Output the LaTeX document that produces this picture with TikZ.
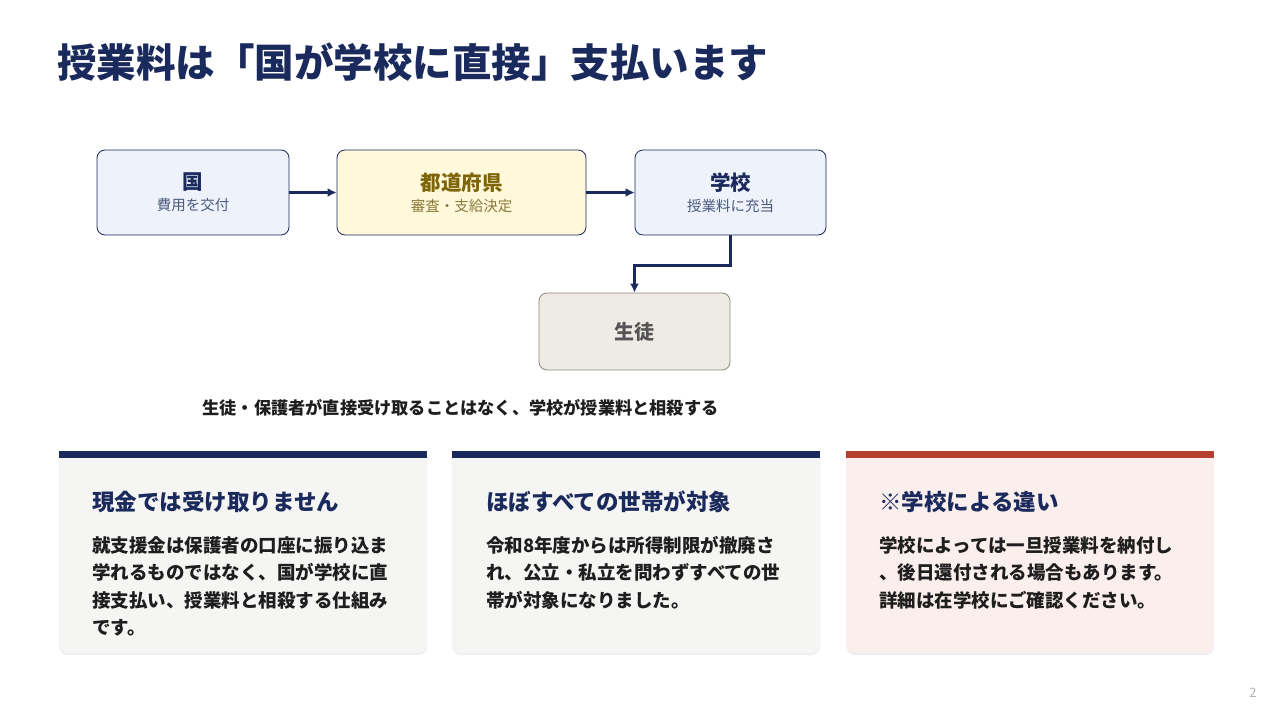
\documentclass[tikz,border=0pt]{standalone}
\usepackage{fontspec}
\setmainfont{Noto Sans CJK JP}
\usetikzlibrary{arrows.meta,shadows}

\definecolor{navy}{HTML}{1B2A5C}
\definecolor{boxblue}{HTML}{EEF2FB}
\definecolor{boxyellow}{HTML}{FFF8DA}
\definecolor{olive}{HTML}{7D6508}
\definecolor{olivesub}{HTML}{8A7A3A}
\definecolor{bluesub}{HTML}{4A5A7E}
\definecolor{stonefill}{HTML}{EEEBE5}
\definecolor{stoneline}{HTML}{8C8780}
\definecolor{stonetext}{HTML}{555555}
\definecolor{cardgray}{HTML}{F5F5F3}
\definecolor{cardpink}{HTML}{FBEFED}
\definecolor{barred}{HTML}{B5402F}
\definecolor{bodytext}{HTML}{1E1E1E}

\begin{document}
\begin{tikzpicture}[x=1pt,y=-1pt]
    \tikzset{flow/.style = {shape=rectangle, rounded corners=8pt, draw=navy, line width=0.8pt,
        minimum height=85pt, inner sep=0pt, align=center, font=\fontsize{14.5}{21}\selectfont}}
    \tikzset{edge/.style = {-{Latex[length=9pt,width=9pt]}, draw=navy, line width=2.6pt}}
    \tikzset{card/.style = {shape=rectangle, rounded corners=9pt, minimum width=368pt,
        minimum height=202pt, inner sep=0pt, anchor=north west,
        drop shadow={opacity=0.12, shadow xshift=0pt, shadow yshift=-2pt}}}
    \tikzset{cardbar/.style = {shape=rectangle, minimum width=368pt, minimum height=7pt,
        inner sep=0pt, anchor=north west}}
    \tikzset{cardtitle/.style = {anchor=west, inner sep=0pt, text=navy,
        font=\fontsize{22.5}{26}\selectfont\bfseries}}
    \tikzset{cardbody/.style = {anchor=north west, inner sep=0pt, align=left, text=bodytext,
        font=\fontsize{18.5}{27.5}\selectfont\bfseries}}

    \useasboundingbox (0,0) rectangle (1280,720);
    \fill[white] (0,0) rectangle (1280,720);

    \node[anchor=west, inner sep=0pt, text=navy, font=\fontsize{39.5}{44}\selectfont\bfseries]
        (title) at (57,62) {授業料は「国が学校に直接」支払います};

    % flow
    \node[flow, fill=boxblue, minimum width=192pt] (kuni) at (193,192.5)
        {{\fontsize{20.5}{22}\selectfont\bfseries\color{navy}国}\\
         {\color{bluesub}費用を交付}};
    \node[flow, fill=boxyellow, minimum width=249pt] (pref) at (461.5,192.5)
        {{\fontsize{20.5}{22}\selectfont\bfseries\color{olive}都道府県}\\
         {\color{olivesub}審査・支給決定}};
    \node[flow, fill=boxblue, minimum width=191pt] (school) at (730.5,192.5)
        {{\fontsize{20.5}{22}\selectfont\bfseries\color{navy}学校}\\
         {\color{bluesub}授業料に充当}};
    \node[flow, fill=stonefill, draw=stoneline, minimum width=191pt, minimum height=77pt,
        text=stonetext, font=\fontsize{20}{22}\selectfont\bfseries] (student) at (634.5,331.5) {生徒};

    \draw[edge] (kuni) to (pref);
    \draw[edge] (pref) to (school);
    \draw[edge] (school.south) -- ++(0,30) -| (student.north);

    \node[inner sep=0pt, text=bodytext, font=\fontsize{17.2}{20}\selectfont\bfseries] (note) at (460.5,408)
        {生徒・保護者が直接受け取ることはなく、学校が授業料と相殺する};

    % cards
    \node[card, fill=cardgray] (card1) at (59,451) {};
    \node[card, fill=cardgray] (card2) at (452,451) {};
    \node[card, fill=cardpink] (card3) at (846,451) {};
    \node[cardbar, fill=navy] (bar1) at (59,451) {};
    \node[cardbar, fill=navy] (bar2) at (452,451) {};
    \node[cardbar, fill=barred] (bar3) at (846,451) {};

    \node[cardtitle] (head1) at (92,502) {現金では受け取りません};
    \node[cardtitle] (head2) at (486,502) {ほぼすべての世帯が対象};
    \node[cardtitle] (head3) at (879,502) {※学校による違い};

    \node[cardbody] (text1) at (92,536)
        {就支援金は保護者の口座に振り込ま\\学れるものではなく、国が学校に直\\接支払い、授業料と相殺する仕組み\\です。};
    \node[cardbody] (text2) at (486,536)
        {令和8年度からは所得制限が撤廃さ\\れ、公立・私立を問わずすべての世\\帯が対象になりました。};
    \node[cardbody] (text3) at (879,536)
        {学校によっては一旦授業料を納付し\\、後日還付される場合もあります。\\詳細は在学校にご確認ください。};

    \node[inner sep=0pt, text=black!30, font=\fontsize{13}{15}\selectfont] (page) at (1253,693) {2};
\end{tikzpicture}
\end{document}
